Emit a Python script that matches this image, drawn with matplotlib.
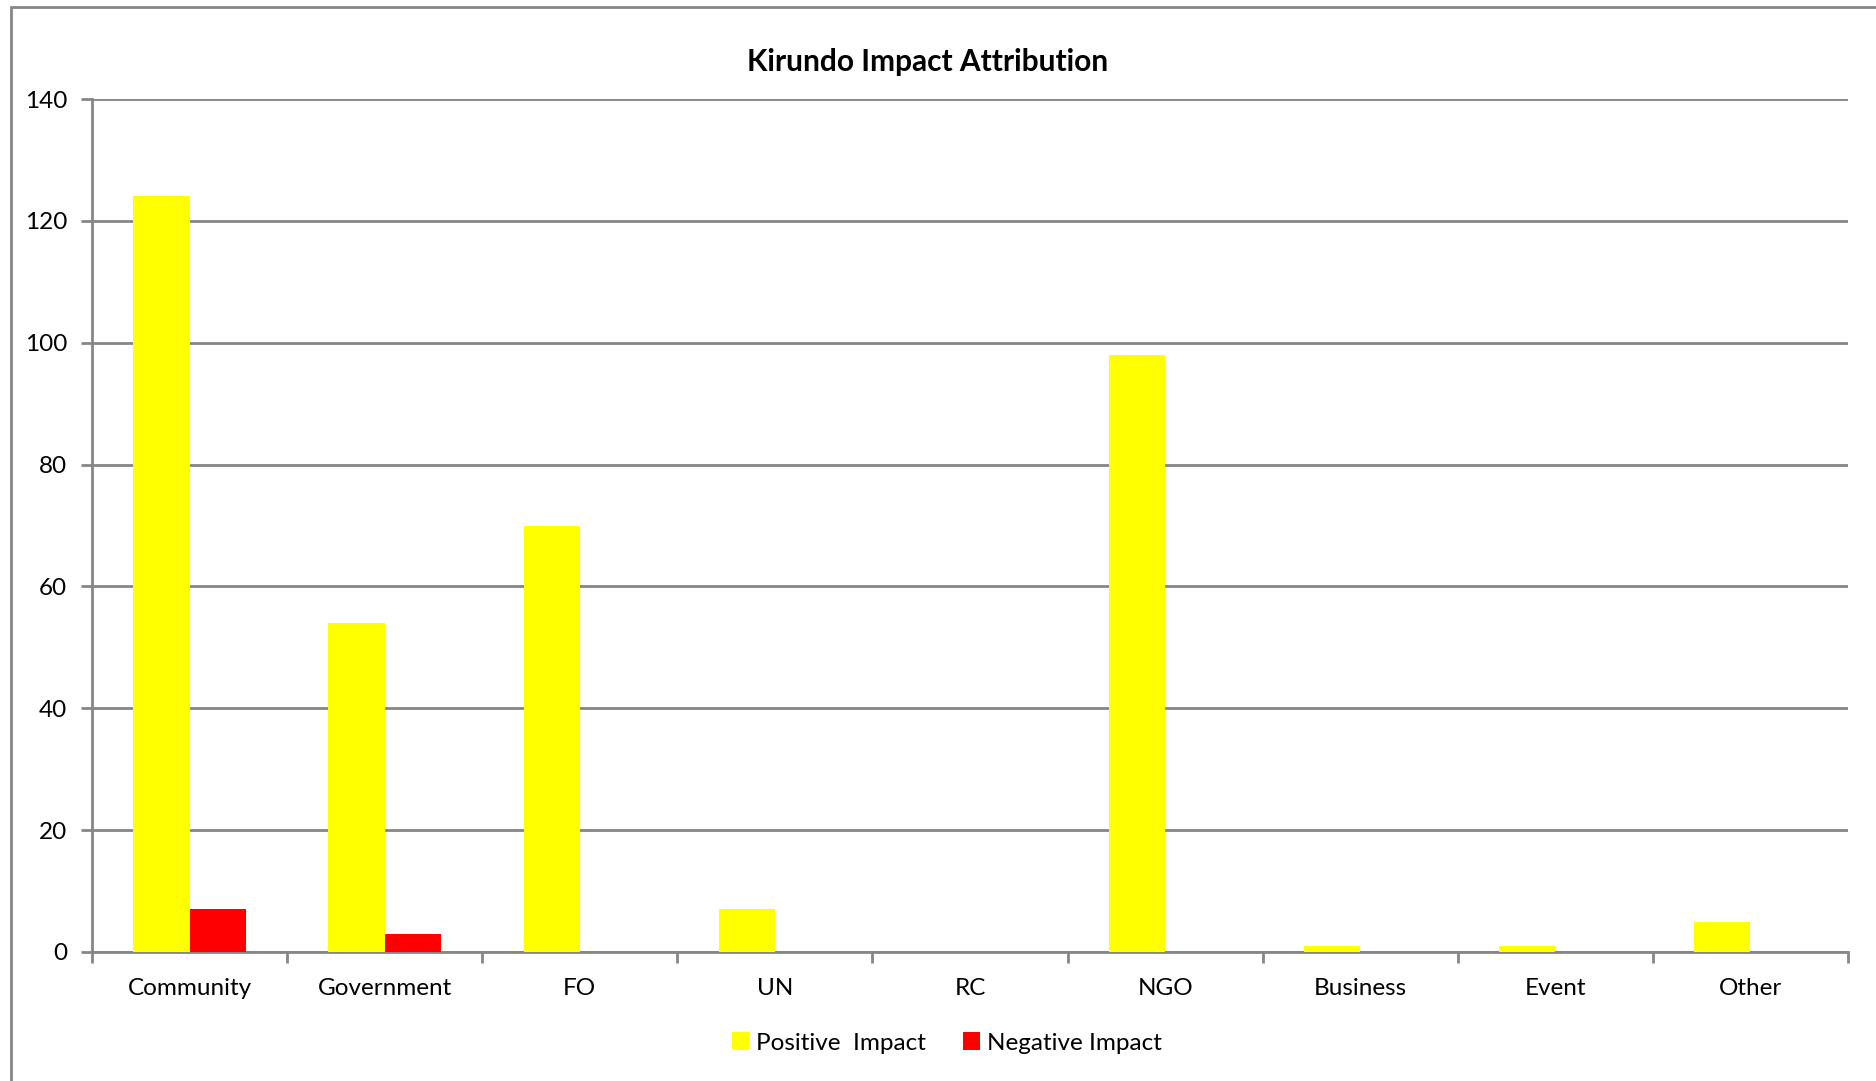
import numpy as np
import matplotlib
matplotlib.use('Agg')
import matplotlib.pyplot as plt
from matplotlib.patches import Rectangle

# data
categories = ['Community', 'Government', 'FO', 'UN', 'RC', 'NGO', 'Business', 'Event', 'Other']
positive = [124, 54, 70, 7, 0, 98, 1, 1, 5]
negative = [7, 3, 0, 0, 0, 0, 0, 0, 0]
yticks = [0, 20, 40, 60, 80, 100, 120, 140]

plt.rcParams['font.family'] = ['Lato', 'DejaVu Sans']
grey = '#868686'

fig = plt.figure(figsize=(18.76, 10.81), dpi=100)
ax = fig.add_axes([92/1876, 1 - 952/1081, (1848 - 92)/1876, (952 - 99)/1081])

x = np.arange(len(categories))
w = 0.288
ax.bar(x - w/2, positive, width=w, color='#FFFF00', label='Positive  Impact', zorder=3)
ax.bar(x + w/2, negative, width=w, color='#FF0000', label='Negative Impact', zorder=3)

ax.set_xlim(-0.5, len(categories) - 0.5)
ax.set_ylim(0, 140)
ax.set_yticks(yticks)
ax.yaxis.grid(True, color=grey, linewidth=2)
ax.set_axisbelow(True)

# category labels centred, tick marks on the boundaries
ax.set_xticks(x)
ax.set_xticklabels(categories)
ax.tick_params(axis='x', length=0, pad=19, labelsize=17.5)
ax.set_xticks(np.arange(len(categories) + 1) - 0.5, minor=True)
ax.tick_params(axis='x', which='minor', length=8, width=2, color=grey)
ax.tick_params(axis='y', length=8, width=2, color=grey, pad=10, labelsize=17.5)

for side in ['top', 'right']:
    ax.spines[side].set_visible(False)
for side in ['left', 'bottom']:
    ax.spines[side].set_color(grey)
    ax.spines[side].set_linewidth(2)

fig.text(928/1876, 1 - 62/1081, 'Kirundo Impact Attribution', ha='center', va='center',
         fontsize=21.5, fontweight='bold')

fig.legend(loc='center', bbox_to_anchor=(947/1876, 1 - 1043/1081), ncol=2, frameon=False,
           fontsize=17.5, handlelength=0.7, handleheight=0.7, handletextpad=0.3,
           columnspacing=1.5)

# outer chart frame (runs off the right and bottom edges)
fig.patches.append(Rectangle((11/1876, -0.1), 1.2, 1.1 - 7/1081, transform=fig.transFigure,
                             fill=False, edgecolor=grey, linewidth=2))

fig.savefig('out.png', dpi=100)
